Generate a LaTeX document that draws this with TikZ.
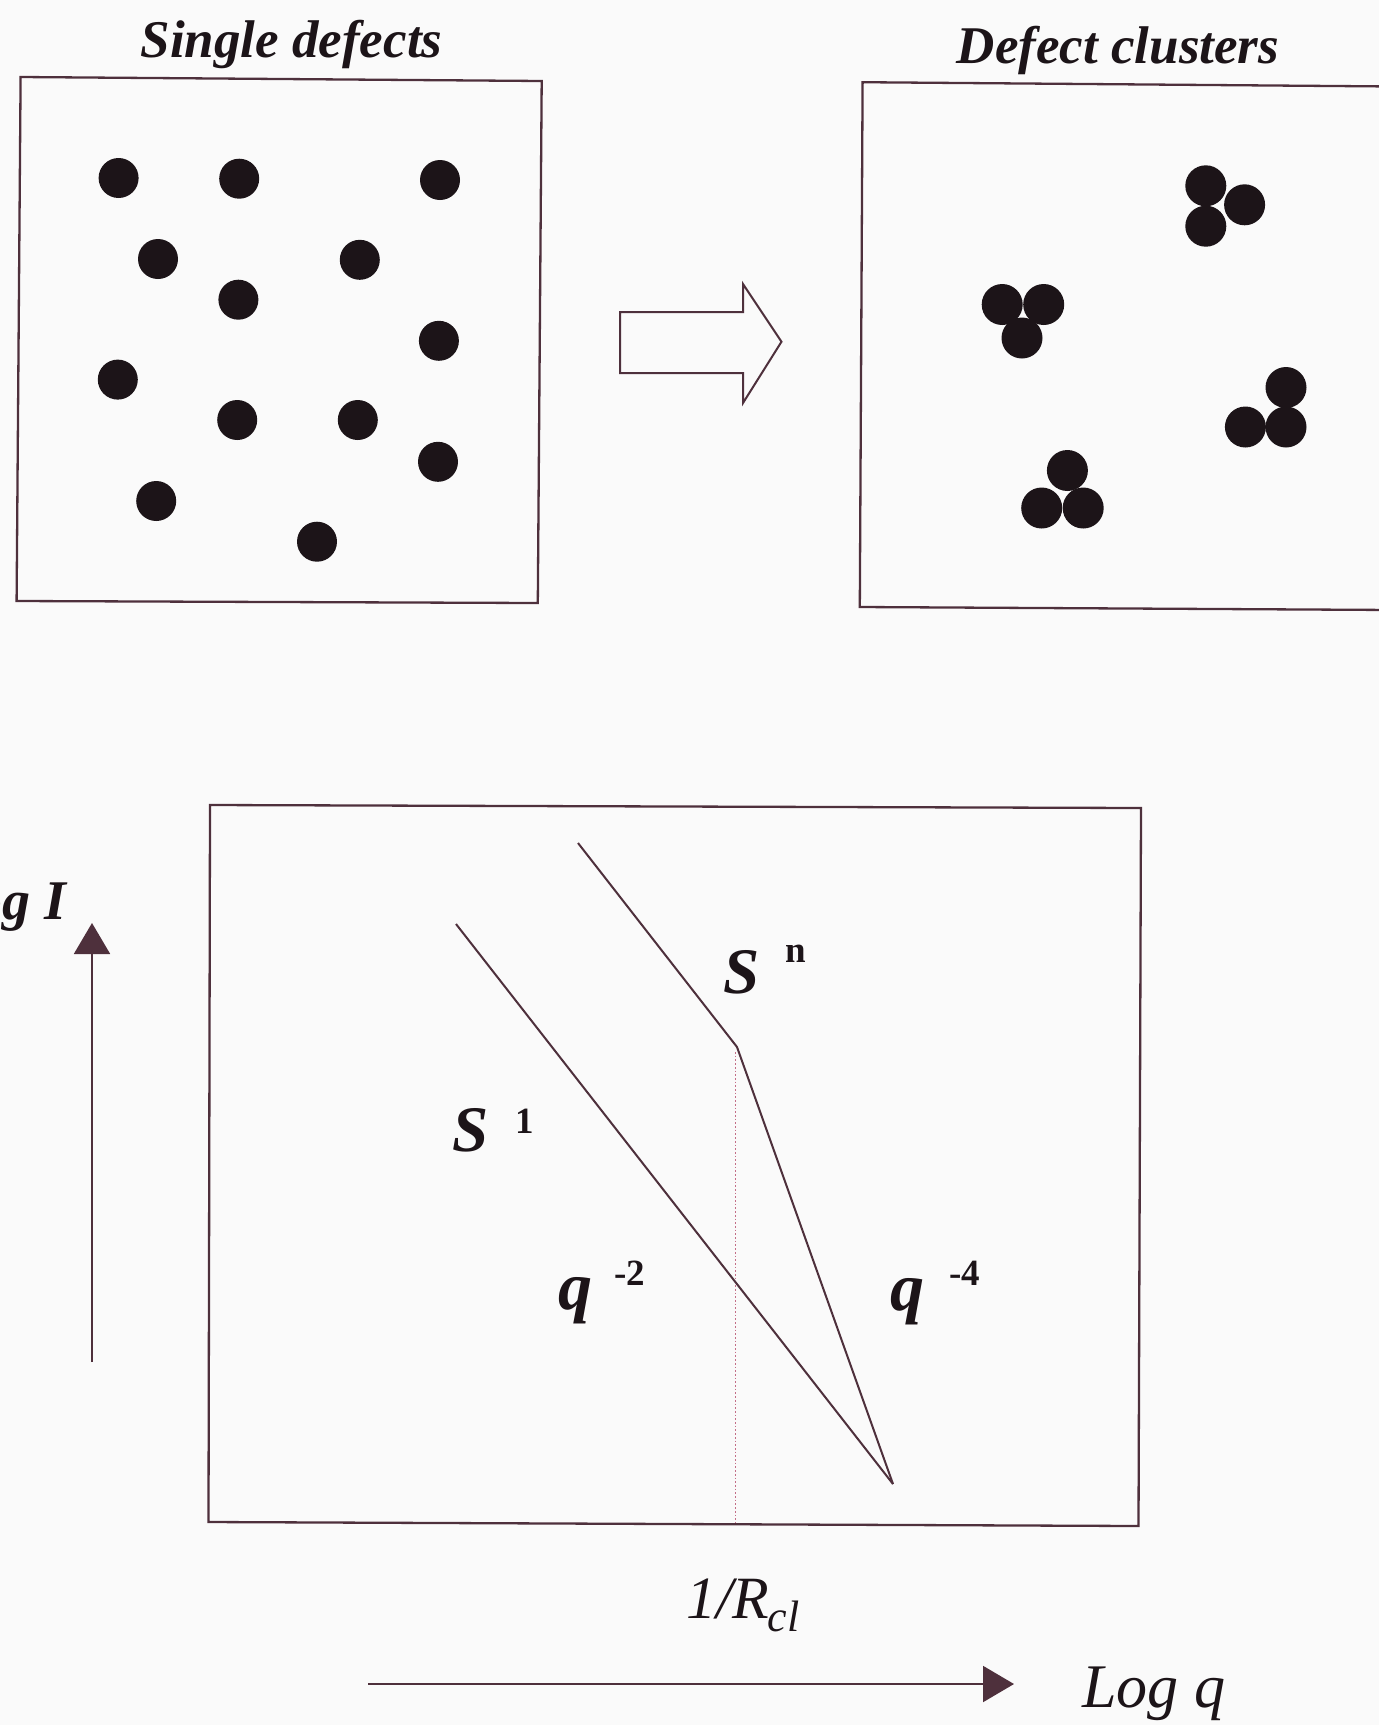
\documentclass[tikz,border=0pt]{standalone}
\usepackage{fontspec}
\setmainfont{Liberation Serif}
\usetikzlibrary{arrows.meta}
\definecolor{ink}{RGB}{78,48,60}
\definecolor{dotc}{RGB}{28,20,24}
\definecolor{bg}{RGB}{250,250,250}
\definecolor{dotline}{RGB}{195,110,135}
\tikzset{
  frame/.style={draw=ink, line width=2.3pt, line join=miter},
  curve/.style={draw=ink, line width=2pt},
  defect/.style={circle, fill=dotc, inner sep=0pt, minimum size=40pt},
  cdefect/.style={circle, fill=dotc, inner sep=0pt, minimum size=41pt},
  title/.style={font=\fontsize{53}{60}\selectfont\bfseries\itshape, text=dotc, anchor=base, inner sep=0pt},
  lab/.style={font=\fontsize{65}{70}\selectfont\bfseries\itshape, text=dotc, anchor=base west, inner sep=0pt},
  qlab/.style={font=\fontsize{68}{72}\selectfont\bfseries\itshape, text=dotc, anchor=base west, inner sep=0pt},
  suplab/.style={font=\fontsize{37}{40}\selectfont\bfseries, text=dotc, anchor=base west, inner sep=0pt},
  itlab/.style={font=\fontsize{62}{66}\selectfont\itshape, text=dotc, anchor=base west, inner sep=0pt},
  sublab/.style={font=\fontsize{44}{48}\selectfont\itshape, text=dotc, anchor=base west, inner sep=0pt},
  axisarrow/.style={draw=ink, line width=2pt, -{Triangle[length=31pt,width=36pt]}},
  guide/.style={draw=dotline, line width=1.7pt, dotted},
}
\begin{document}
\begin{tikzpicture}[x=1pt,y=-1pt]
\fill[bg] (0,0) rectangle (1379,1725);
\useasboundingbox (0,0) rectangle (1379,1725);

% titles
\node[title] (t1) at (291.5,57) {Single defects};
\node[title] (t2) at (1118,63) {Defect clusters};

% left box
\draw[frame] (20.6,77) -- (541.7,81) -- (537.8,603) -- (16.6,601) -- cycle;
\foreach \n/\x/\y in {a/118.6/178, b/239.2/178.7, c/440/180, d/158/259, e/359.8/259.8,
  f/238.4/299.7, g/438.9/340.8, h/117.8/379.6, i/237.2/420, j/357.8/420,
  k/438/461.8, l/156.2/501, m/317/541.7}
  \node[defect] (d\n) at (\x,\y) {};

% hollow arrow
\draw[frame, line width=2pt] (620,312) -- (743,312) -- (743,284) -- (781.5,341.7) -- (743,403) -- (743,373) -- (620,373) -- cycle;

% right box (extends past the right edge)
\draw[frame] (1395,86.5) -- (862.6,82.2) -- (859.8,607) -- (1395,610);
% clusters
\node[cdefect] (c1a) at (1205.8,185.8) {};
\node[cdefect] (c1b) at (1244.6,204.8) {};
\node[cdefect] (c1c) at (1205.8,226.2) {};
\node[cdefect] (c2a) at (1002.2,304.5) {};
\node[cdefect] (c2b) at (1043.7,304.5) {};
\node[cdefect] (c2c) at (1022,338) {};
\node[cdefect] (c3a) at (1286,387.5) {};
\node[cdefect] (c3b) at (1245.4,427) {};
\node[cdefect] (c3c) at (1286,427) {};
\node[cdefect] (c4a) at (1067.4,470.5) {};
\node[cdefect] (c4b) at (1041.7,508) {};
\node[cdefect] (c4c) at (1083.2,508) {};

% plot box
\draw[frame] (210,805) -- (1141,808) -- (1138.5,1526) -- (208.5,1522) -- cycle;

% curves
\coordinate (s1a) at (456,924);
\coordinate (tip) at (893,1484);
\coordinate (sna) at (578,843);
\coordinate (kink) at (737,1047);
\coordinate (rbot) at (735.5,1523);
\coordinate (rtop) at (735.5,1052);
\draw[guide] (rtop) -- (rbot);
\draw[curve] (s1a) -- (tip);
\draw[curve, line join=miter] (sna) -- (kink) -- (tip);

% labels
\node[lab] (S1) at (452,1151) {S};
\node[suplab] (S1sup) at (515,1133) {1};
\node[lab] (Sn) at (723,993) {S};
\node[suplab] (Snsup) at (785,962) {n};
\node[qlab] (q2) at (558,1309) {q};
\node[suplab] (q2sup) at (614,1285) {-2};
\node[qlab] (q4) at (890,1310) {q};
\node[suplab] (q4sup) at (949,1285) {-4};
\node[itlab, font=\fontsize{60}{64}\selectfont\itshape] (rcl) at (686,1618) {1/R};
\node[sublab] (rclsub) at (rcl.base east) [xshift=-2pt, yshift=-13pt] {cl};

% axes
\coordinate (vbot) at (92,1362);
\coordinate (vtop) at (92,923);
\draw[axisarrow] (vbot) -- (vtop);
\node[font=\fontsize{56}{60}\selectfont\bfseries\itshape, text=dotc, anchor=base east, inner sep=0pt] (logI) at (66,919) {Log I};
\coordinate (hleft) at (368,1684);
\coordinate (hright) at (1014,1684);
\draw[axisarrow] (hleft) -- (hright);
\node[itlab] (logq) at (1082,1707) {Log q};
\end{tikzpicture}
\end{document}
